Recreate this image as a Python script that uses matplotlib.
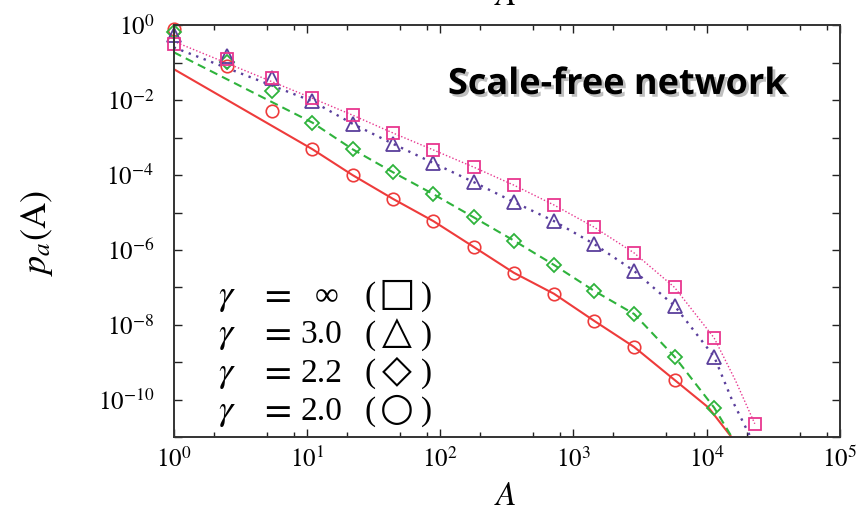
import matplotlib
matplotlib.use("Agg")
import matplotlib.pyplot as plt
import matplotlib.patheffects as pe
import numpy as np
from matplotlib.ticker import LogLocator, FixedLocator, NullFormatter

plt.rcParams["mathtext.fontset"] = "stix"
plt.rcParams["font.family"] = ["Liberation Serif", "DejaVu Serif"]

# binned data (A values) and log10 p_a(A)
A_bins = [1, 2.5, 5.5, 11, 22, 44.5, 89, 179, 358, 716, 1430, 2860, 5750, 11400, 23000]

logp_sq = [-0.51, -0.91, -1.42, -1.95, -2.40, -2.88, -3.33, -3.79, -4.27, -4.80,
           -5.39, -6.08, -7.00, -8.35, -10.64]
logp_tri = [-0.26, -0.83, -1.42, -2.03, -2.63, -3.17, -3.68, -4.19, -4.72, -5.23,
            -5.84, -6.56, -7.49, -8.85]
logp_dia = [-0.18, -0.99, -1.75, -2.60, -3.31, -3.93, -4.51, -5.13, -5.75, -6.40,
            -7.09, -7.71, -8.85, -10.21]
logp_circ = [-0.11, -1.10, -2.29, -3.31, -4.00, -4.64, -5.23, -5.92, -6.61, -7.17,
             -7.89, -8.59, -9.47]

# theory curves
A_fit_sq = [1, 11, 22, 44.5, 89, 179, 358, 716, 1430, 2860, 5750, 11400, 16500, 23000]
logfit_sq = [-0.43, -1.95, -2.40, -2.88, -3.33, -3.79, -4.27, -4.80, -5.39, -6.08,
             -7.00, -8.35, -9.49, -10.64]
A_fit_tri = [1, 11, 22, 44.5, 89, 179, 358, 716, 1430, 2860, 5750, 11400, 15500, 21400]
logfit_tri = [-0.59, -2.03, -2.63, -3.17, -3.68, -4.19, -4.72, -5.23, -5.84, -6.56,
              -7.49, -8.85, -10.0, -11.0]
A_fit_dia = [1, 11, 22, 44.5, 89, 179, 358, 716, 1430, 2860, 5750, 11400, 15500]
logfit_dia = [-0.72, -2.60, -3.31, -3.93, -4.51, -5.13, -5.75, -6.40, -7.09, -7.71,
              -8.85, -10.21, -11.0]
A_fit_circ = [1, 11, 22, 44.5, 89, 179, 358, 716, 1430, 2860, 5750, 10350, 15400]
logfit_circ = [-1.17, -3.31, -4.00, -4.64, -5.23, -5.92, -6.61, -7.17, -7.89, -8.59,
               -9.47, -10.21, -11.0]

legend_gamma = ["\u221e", "3.0", "2.2", "2.0"]
legend_sym = ["\u25a1", "\u25b3", "\u25c7", "\u25cb"]

c_sq = "#e8368f"
c_tri = "#5b3f9c"
c_dia = "#2fb33c"
c_circ = "#ee3b3b"

W, H = 864, 515
fig = plt.figure(figsize=(W / 100, H / 100), dpi=100)
ax = fig.add_axes([0.201, 0.151, 0.771, 0.800])
ax.set_xscale("log")
ax.set_yscale("log")


def pw(v):
    return np.power(10.0, np.asarray(v))


# curves
ax.plot(A_fit_circ, pw(logfit_circ), "-", color=c_circ, lw=1.5)
ax.plot(A_fit_dia, pw(logfit_dia), "--", color=c_dia, lw=1.5, dashes=(4, 2.5))
ax.plot(A_fit_tri, pw(logfit_tri), ":", color=c_tri, lw=1.7, dashes=(1, 2.4))
ax.plot(A_fit_sq, pw(logfit_sq), ":", color=c_sq, lw=1.0, dashes=(1, 1.5))

# markers
ax.plot(A_bins[:len(logp_circ)], pw(logp_circ), "o", mfc="none", mec=c_circ, ms=9, mew=1.2, clip_on=False)
ax.plot(A_bins[:len(logp_dia)], pw(logp_dia), "D", mfc="none", mec=c_dia, ms=7.5, mew=1.3, clip_on=False)
ax.plot(A_bins[:len(logp_tri)], pw(logp_tri), "^", mfc="none", mec=c_tri, ms=10, mew=1.3, clip_on=False)
ax.plot(A_bins[:len(logp_sq)], pw(logp_sq), "s", mfc="none", mec=c_sq, ms=8.5, mew=1.3, clip_on=False)

ax.set_xlim(1, 1e5)
ax.set_ylim(1e-11, 1e0)

ax.xaxis.set_minor_locator(LogLocator(base=10, subs=(2, 5, 8), numticks=10))
ax.xaxis.set_minor_formatter(NullFormatter())
ax.set_xticks([1, 10, 100, 1000, 1e4, 1e5])
ax.set_xticklabels([r"$10^{0}$", r"$10^{1}$", r"$10^{2}$", r"$10^{3}$", r"$10^{4}$", r"$10^{5}$"])

ydec = list(range(-11, 1))
ax.yaxis.set_major_locator(FixedLocator([10.0 ** d for d in ydec]))
ax.set_yticklabels([r"$10^{%d}$" % d if d % 2 == 0 else "" for d in ydec])
ax.yaxis.set_minor_formatter(NullFormatter())
ax.yaxis.set_minor_locator(FixedLocator([]))

ax.tick_params(which="both", direction="in", top=True, right=True, width=1.0, colors="#222222")
ax.tick_params(which="major", length=6, labelsize=18, labelcolor="black")
ax.tick_params(axis="x", which="major", pad=7)
ax.tick_params(axis="y", which="major", pad=14)
ax.tick_params(which="minor", length=3.5)
for s in ax.spines.values():
    s.set_linewidth(1.4)
    s.set_color("#333333")

fig.text(0.043, 0.548, r"$p_a(\mathrm{A})$", rotation=90, ha="center", va="center", fontsize=26)
fig.text(505 / W, 1 - 505 / H, r"$A$", ha="center", va="baseline", fontsize=24)
# clipped x label of the panel above
fig.text(505 / W, 1 - 5 / H, r"$A$", ha="center", va="baseline", fontsize=24)

# hand-set legend, one row per gamma
for i in range(4):
    yb = 1 - (305 + 38.3 * i) / H
    fig.text(218 / W, yb, r"$\gamma$", ha="left", va="baseline", fontsize=26)
    fig.text(275 / W, yb, r"$=$", ha="center", va="baseline", fontsize=28)
    x_val = 315 if i == 0 else 300
    fig.text(x_val / W, yb, legend_gamma[i], ha="left", va="baseline", fontsize=24,
             family=["Liberation Serif", "DejaVu Sans"])
    fig.text(364 / W, yb, "(", ha="left", va="baseline", fontsize=24)
    fig.text(397 / W, yb, legend_sym[i], ha="center", va="baseline", fontsize=28,
             family=["DejaVu Sans"])
    fig.text(432 / W, yb, ")", ha="right", va="baseline", fontsize=24)

fig.text(0.715, 0.835, "Scale-free network", ha="center", va="center", fontsize=26,
         fontweight="bold", family=["Open Sans", "DejaVu Sans"],
         path_effects=[pe.withSimplePatchShadow(offset=(2, -2), shadow_rgbFace="gray", alpha=0.5)])

fig.savefig("out.png", dpi=100)
